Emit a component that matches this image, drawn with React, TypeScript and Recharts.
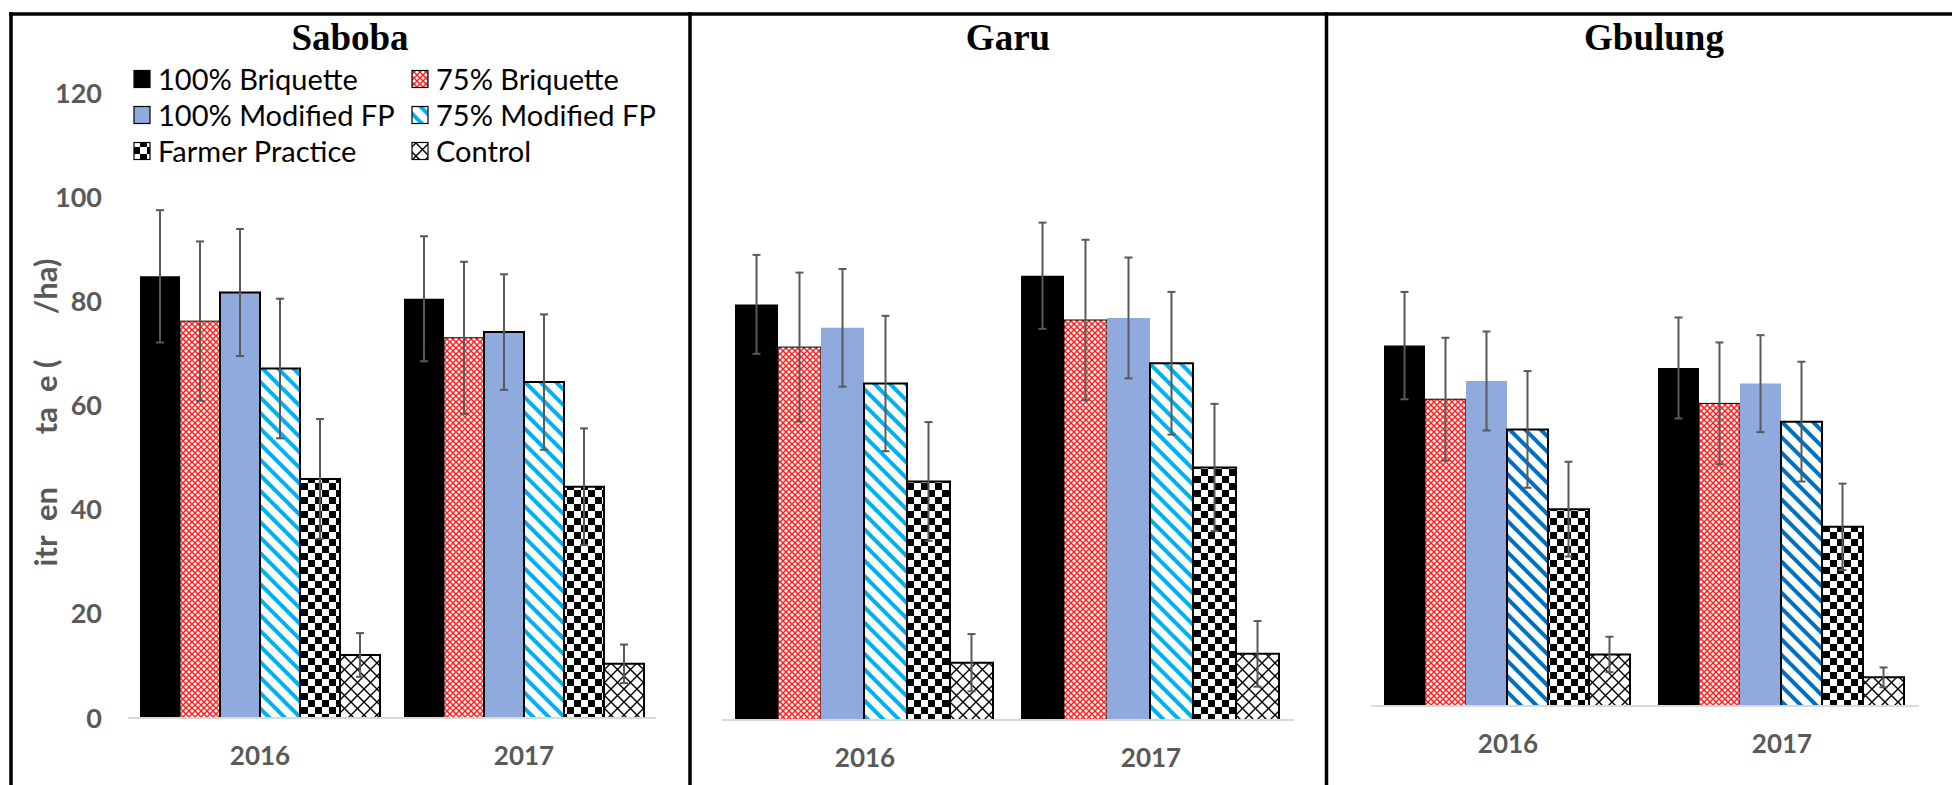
import React from 'react';
import { BarChart, Bar, XAxis, YAxis, ErrorBar } from 'recharts';

// ---------- data ----------
const years = ['2016', '2017'];
const seriesNames = [
  '100% Briquette',
  '75% Briquette',
  '100% Modified FP',
  '75% Modified FP',
  'Farmer Practice',
  'Control',
];
const yTicks = [0, 20, 40, 60, 80, 100, 120];
const panelTitles = ['Saboba', 'Garu', 'Gbulung'];
const nb = (n: number) => '\u00A0'.repeat(n);
const yAxisLabel = 'itr' + nb(2) + 'en' + nb(7) + 'ta' + nb(2) + 'e' + nb(1) + '(' + nb(6) + '/ha)';

const saboba2016 = [84.8, 76.2, 81.7, 67.1, 45.9, 12.1];
const saboba2017 = [80.5, 73.0, 74.1, 64.5, 44.4, 10.4];
const sabobaErr2016 = [12.7, 15.3, 12.2, 13.4, 11.5, 4.2];
const sabobaErr2017 = [12.0, 14.6, 11.1, 13.0, 11.2, 3.7];

const garu2016 = [79.8, 71.6, 75.3, 64.6, 45.8, 11.0];
const garu2017 = [85.3, 76.8, 77.2, 68.5, 48.5, 12.7];
const garuErr2016 = [9.5, 14.3, 11.3, 13.0, 11.4, 5.5];
const garuErr2017 = [10.2, 15.4, 11.6, 13.7, 12.2, 6.3];

const gbulung2016 = [69.2, 58.9, 62.4, 53.1, 37.8, 9.9];
const gbulung2017 = [64.9, 58.1, 61.9, 54.6, 34.4, 5.5];
const gbulungErr2016 = [10.3, 11.8, 9.5, 11.2, 9.1, 3.4];
const gbulungErr2017 = [9.7, 11.7, 9.3, 11.5, 8.3, 1.9];

function buildRows(means: number[][], errs: number[][]) {
  return years.map((year, yi) => {
    const row: any = { year };
    seriesNames.forEach((_, si) => {
      row['s' + si] = means[yi][si];
      row['e' + si] = errs[yi][si];
    });
    return row;
  });
}

const sabobaRows = buildRows([saboba2016, saboba2017], [sabobaErr2016, sabobaErr2017]);
const garuRows = buildRows([garu2016, garu2017], [garuErr2016, garuErr2017]);
const gbulungRows = buildRows([gbulung2016, gbulung2017], [gbulungErr2016, gbulungErr2017]);

// ---------- styles ----------
const GRAY = '#595959';
const SANS = 'Lato, "Open Sans", sans-serif';

function seriesStyle(i: number, stripeId: string, blueBorder: boolean) {
  switch (i) {
    case 0:
      return { fill: '#000000', stroke: 'none', sw: 0 };
    case 1:
      return { fill: 'url(#redPat)', stroke: '#000', sw: 1 };
    case 2:
      return { fill: '#8faadc', stroke: blueBorder ? '#000' : 'none', sw: blueBorder ? 2 : 0 };
    case 3:
      return { fill: `url(#${stripeId})`, stroke: '#000', sw: 2 };
    case 4:
      return { fill: 'url(#checkPat)', stroke: '#000', sw: 2 };
    default:
      return { fill: 'url(#latticePat)', stroke: '#000', sw: 2 };
  }
}

function Patterns() {
  return (
    <svg width={0} height={0} style={{ position: 'absolute' }}>
      <defs>
        <pattern id="redPat" patternUnits="userSpaceOnUse" width={6} height={6}>
          <rect width={6} height={6} fill="#ffffff" />
          <path d="M0,0 L6,6 M6,0 L0,6" stroke="#ff2020" strokeWidth={1.5} />
        </pattern>
        <pattern id="stripeLight" patternUnits="userSpaceOnUse" width={11} height={11} patternTransform="rotate(-45)">
          <rect width={11} height={11} fill="#ffffff" />
          <rect x={0} y={0} width={4} height={11} fill="#00b0f0" />
        </pattern>
        <pattern id="stripeDark" patternUnits="userSpaceOnUse" width={11} height={11} patternTransform="rotate(-45)">
          <rect width={11} height={11} fill="#ffffff" />
          <rect x={0} y={0} width={4} height={11} fill="#0070c0" />
        </pattern>
        <pattern id="checkPat" patternUnits="userSpaceOnUse" width={14} height={14}>
          <rect width={14} height={14} fill="#ffffff" />
          <rect x={0} y={0} width={7} height={7} fill="#000000" />
          <rect x={7} y={7} width={7} height={7} fill="#000000" />
        </pattern>
        <pattern id="latticePat" patternUnits="userSpaceOnUse" width={13} height={13}>
          <rect width={13} height={13} fill="#ffffff" />
          <path d="M0,0 L13,13 M13,0 L0,13" stroke="#000000" strokeWidth={1.4} />
        </pattern>
      </defs>
    </svg>
  );
}

type PanelProps = {
  left: number;
  width: number;
  plotLeft: number;
  plotRight: number;
  plotTop: number;
  baseline: number;
  gap: number;
  data: any[];
  showY: boolean;
  stripeId: string;
  blueBorder: boolean;
};

function Panel(p: PanelProps) {
  const xTickStyle = { fill: GRAY, fontSize: 26, fontWeight: 700, fontFamily: SANS };
  const yTickStyle = { fill: GRAY, fontSize: 27, fontWeight: 700, fontFamily: SANS };
  return (
    <div style={{ position: 'absolute', left: p.left, top: 0 }}>
      <BarChart
        width={p.width}
        height={785}
        data={p.data}
        margin={{ top: p.plotTop, right: p.width - p.plotRight, bottom: 0, left: p.showY ? 0 : p.plotLeft }}
        barGap={0}
        barCategoryGap={p.gap}
      >
        <XAxis
          dataKey="year"
          height={785 - p.baseline}
          axisLine={{ stroke: '#d9d9d9', strokeWidth: 2 }}
          tickLine={false}
          tickSize={0}
          tickMargin={29}
          tick={xTickStyle}
        />
        <YAxis
          hide={!p.showY}
          width={p.plotLeft}
          domain={[0, 120]}
          ticks={yTicks}
          interval={0}
          axisLine={false}
          tickLine={false}
          tickSize={0}
          tickMargin={26}
          tick={yTickStyle}
          label={{
            position: 'center',
            content: (lp: any) => {
              const vb = lp.viewBox || {};
              const cx = (vb.x || 0) + 45;
              const cy = (vb.y || 0) + (vb.height || 0) / 2 + 7;
              return (
                <text
                  x={cx}
                  y={cy}
                  transform={`rotate(-90 ${cx} ${cy})`}
                  textAnchor="middle"
                  dominantBaseline="central"
                  fill={GRAY}
                  fontSize={31}
                  fontWeight={700}
                  fontFamily={SANS}
                >
                  {yAxisLabel}
                </text>
              );
            },
          }}
        />
        {seriesNames.map((name, i) => {
          const st = seriesStyle(i, p.stripeId, p.blueBorder);
          return (
            <Bar
              key={name}
              dataKey={'s' + i}
              name={name}
              fill={st.fill}
              stroke={st.stroke}
              strokeWidth={st.sw}
              isAnimationActive={false}
            >
              <ErrorBar dataKey={'e' + i} width={4} strokeWidth={2} stroke={GRAY} direction="y" />
            </Bar>
          );
        })}
      </BarChart>
    </div>
  );
}

function Overlay() {
  const legendCols = [134, 412];
  const legendRows = [79, 115, 151];
  const swatchFill = (i: number) => seriesStyle(i, 'stripeLight', true).fill;
  const titleX = [350, 1008, 1654];
  return (
    <svg width={1952} height={785} style={{ position: 'absolute', left: 0, top: 0, pointerEvents: 'none' }}>
      {/* panel frames */}
      <line x1={9} y1={14} x2={1952} y2={14} stroke="#000" strokeWidth={3.5} />
      <line x1={11} y1={12} x2={11} y2={785} stroke="#000" strokeWidth={3.5} />
      <line x1={690} y1={12} x2={690} y2={785} stroke="#000" strokeWidth={3.5} />
      <line x1={1326.5} y1={12} x2={1326.5} y2={785} stroke="#000" strokeWidth={3.5} />
      {/* titles */}
      {panelTitles.map((t, i) => (
        <text
          key={t}
          x={titleX[i]}
          y={50}
          textAnchor="middle"
          fontFamily='"Liberation Serif", "Times New Roman", serif'
          fontWeight={700}
          fontSize={37}
          fill="#000"
        >
          {t}
        </text>
      ))}
      {/* legend */}
      {seriesNames.map((name, i) => {
        const col = i % 2;
        const row = Math.floor(i / 2);
        const x = legendCols[col];
        const cy = legendRows[row];
        return (
          <g key={name}>
            <rect x={x} y={cy - 8.5} width={16} height={17} fill={swatchFill(i)} stroke="#000" strokeWidth={1.2} />
            <text x={x + 24} y={cy + 10.5} fontFamily={SANS} fontSize={29} fill="#000">
              {name}
            </text>
          </g>
        );
      })}
    </svg>
  );
}

export default function App() {
  return (
    <div style={{ position: 'absolute', left: 0, top: 0, width: 1952, height: 785, background: '#fff', overflow: 'hidden' }}>
      <Patterns />
      <Panel
        left={0}
        width={690}
        plotLeft={128}
        plotRight={656}
        plotTop={93}
        baseline={718}
        gap={12}
        data={sabobaRows}
        showY={true}
        stripeId="stripeLight"
        blueBorder={true}
      />
      <Panel
        left={690}
        width={636}
        plotLeft={32}
        plotRight={604}
        plotTop={95}
        baseline={720}
        gap={13}
        data={garuRows}
        showY={false}
        stripeId="stripeLight"
        blueBorder={false}
      />
      <Panel
        left={1326}
        width={626}
        plotLeft={45}
        plotRight={593}
        plotTop={81}
        baseline={706}
        gap={13}
        data={gbulungRows}
        showY={false}
        stripeId="stripeDark"
        blueBorder={false}
      />
      <Overlay />
    </div>
  );
}
